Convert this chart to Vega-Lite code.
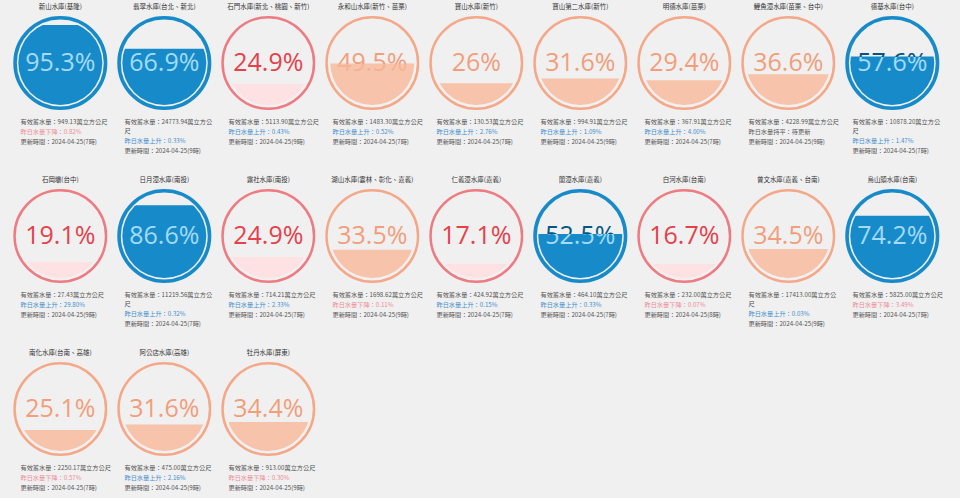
{
  "$schema": "https://vega.github.io/schema/vega-lite/v6.json",
  "background": "#f0f0f0",
  "padding": {"left": 7.45, "top": 0, "right": 19.25, "bottom": 2},
  "bounds": "flush",
  "config": {
    "view": {"stroke": null},
    "axis": {"disable": true},
    "header": {"labels": false, "title": null, "labelPadding": 0, "titlePadding": 0, "labelFontSize": 0, "labelExpr": "''"},
    "headerFacet": {"labels": false, "title": null, "labelPadding": 0, "titlePadding": 0, "labelFontSize": 0, "labelExpr": "''"}
  },
  "data": {"values": [
    {"id": 1, "name": "新山水庫(基隆)", "rate": 0.953, "status": "充足", "l1": "有效蓄水量：949.13萬立方公尺", "trend": "下降", "l2": "昨日水量下降：0.82%", "l3": "更新時間：2024-04-25(7時)"},
    {"id": 2, "name": "翡翠水庫(台北、新北)", "rate": 0.669, "status": "充足", "l1": "有效蓄水量：24773.94萬立方公\n尺", "trend": "上升", "l2": "昨日水量上升：0.33%", "l3": "更新時間：2024-04-25(9時)"},
    {"id": 3, "name": "石門水庫(新北、桃園、新竹)", "rate": 0.249, "status": "嚴重偏低", "l1": "有效蓄水量：5113.90萬立方公尺", "trend": "上升", "l2": "昨日水量上升：0.43%", "l3": "更新時間：2024-04-25(9時)"},
    {"id": 4, "name": "永和山水庫(新竹、苗栗)", "rate": 0.495, "status": "偏低", "l1": "有效蓄水量：1483.30萬立方公尺", "trend": "上升", "l2": "昨日水量上升：0.52%", "l3": "更新時間：2024-04-25(7時)"},
    {"id": 5, "name": "寶山水庫(新竹)", "rate": 0.26, "status": "偏低", "l1": "有效蓄水量：130.53萬立方公尺", "trend": "上升", "l2": "昨日水量上升：2.76%", "l3": "更新時間：2024-04-25(7時)"},
    {"id": 6, "name": "寶山第二水庫(新竹)", "rate": 0.316, "status": "偏低", "l1": "有效蓄水量：994.91萬立方公尺", "trend": "上升", "l2": "昨日水量上升：1.09%", "l3": "更新時間：2024-04-25(9時)"},
    {"id": 7, "name": "明德水庫(苗栗)", "rate": 0.294, "status": "偏低", "l1": "有效蓄水量：367.91萬立方公尺", "trend": "上升", "l2": "昨日水量上升：4.00%", "l3": "更新時間：2024-04-25(7時)"},
    {"id": 8, "name": "鯉魚潭水庫(苗栗、台中)", "rate": 0.366, "status": "偏低", "l1": "有效蓄水量：4228.99萬立方公尺", "trend": "持平", "l2": "昨日水量持平：待更新", "l3": "更新時間：2024-04-25(9時)"},
    {"id": 9, "name": "德基水庫(台中)", "rate": 0.576, "status": "充足", "l1": "有效蓄水量：10878.20萬立方公\n尺", "trend": "上升", "l2": "昨日水量上升：1.47%", "l3": "更新時間：2024-04-25(7時)"},
    {"id": 10, "name": "石岡壩(台中)", "rate": 0.191, "status": "嚴重偏低", "l1": "有效蓄水量：27.43萬立方公尺", "trend": "上升", "l2": "昨日水量上升：29.80%", "l3": "更新時間：2024-04-25(9時)"},
    {"id": 11, "name": "日月潭水庫(南投)", "rate": 0.866, "status": "充足", "l1": "有效蓄水量：11219.56萬立方公\n尺", "trend": "上升", "l2": "昨日水量上升：0.32%", "l3": "更新時間：2024-04-25(7時)"},
    {"id": 12, "name": "霧社水庫(南投)", "rate": 0.249, "status": "嚴重偏低", "l1": "有效蓄水量：714.21萬立方公尺", "trend": "上升", "l2": "昨日水量上升：2.33%", "l3": "更新時間：2024-04-25(7時)"},
    {"id": 13, "name": "湖山水庫(雲林、彰化、嘉義)", "rate": 0.335, "status": "偏低", "l1": "有效蓄水量：1698.62萬立方公尺", "trend": "下降", "l2": "昨日水量下降：0.11%", "l3": "更新時間：2024-04-25(9時)"},
    {"id": 14, "name": "仁義潭水庫(嘉義)", "rate": 0.171, "status": "嚴重偏低", "l1": "有效蓄水量：424.92萬立方公尺", "trend": "上升", "l2": "昨日水量上升：0.15%", "l3": "更新時間：2024-04-25(7時)"},
    {"id": 15, "name": "蘭潭水庫(嘉義)", "rate": 0.525, "status": "充足", "l1": "有效蓄水量：464.10萬立方公尺", "trend": "上升", "l2": "昨日水量上升：0.33%", "l3": "更新時間：2024-04-25(7時)"},
    {"id": 16, "name": "白河水庫(台南)", "rate": 0.167, "status": "嚴重偏低", "l1": "有效蓄水量：232.00萬立方公尺", "trend": "下降", "l2": "昨日水量下降：0.07%", "l3": "更新時間：2024-04-25(8時)"},
    {"id": 17, "name": "曾文水庫(嘉義、台南)", "rate": 0.345, "status": "偏低", "l1": "有效蓄水量：17413.00萬立方公\n尺", "trend": "上升", "l2": "昨日水量上升：0.03%", "l3": "更新時間：2024-04-25(9時)"},
    {"id": 18, "name": "烏山頭水庫(台南)", "rate": 0.742, "status": "充足", "l1": "有效蓄水量：5825.00萬立方公尺", "trend": "下降", "l2": "昨日水量下降：3.49%", "l3": "更新時間：2024-04-25(7時)"},
    {"id": 19, "name": "南化水庫(台南、高雄)", "rate": 0.251, "status": "偏低", "l1": "有效蓄水量：2250.17萬立方公尺", "trend": "下降", "l2": "昨日水量下降：0.57%", "l3": "更新時間：2024-04-25(7時)"},
    {"id": 20, "name": "阿公店水庫(高雄)", "rate": 0.316, "status": "偏低", "l1": "有效蓄水量：475.00萬立方公尺", "trend": "上升", "l2": "昨日水量上升：2.16%", "l3": "更新時間：2024-04-25(9時)"},
    {"id": 21, "name": "牡丹水庫(屏東)", "rate": 0.344, "status": "偏低", "l1": "有效蓄水量：913.00萬立方公尺", "trend": "下降", "l2": "昨日水量下降：0.30%", "l3": "更新時間：2024-04-25(9時)"}
  ]},
  "facet": {"field": "id", "type": "ordinal", "header": {"labels": false, "title": null, "labelPadding": 0, "titlePadding": 0, "labelFontSize": 0, "labelExpr": "''"}, "sort": "ascending"},
  "columns": 9,
  "spacing": {"row": 23, "column": 0},
  "spec": {
    "width": 103.7,
    "height": 150,
    "resolve": {"scale": {"color": "independent"}},
    "layer": [
      {
        "mark": {"type": "point", "shape": "circle", "filled": true, "size": 7056, "opacity": 1, "strokeWidth": 0},
        "encoding": {
          "x": {"datum": 0, "type": "quantitative", "scale": {"domain": [-1, 1]}, "axis": null},
          "y": {"datum": 0.5, "type": "quantitative", "scale": {"domain": [-0.5357, 1.25], "nice": false, "zero": false}, "axis": null},
          "color": {"field": "status", "type": "nominal", "scale": {"domain": ["充足", "偏低", "嚴重偏低"], "range": ["#178bca", "#f7c3ab", "#fde1e3"]}, "legend": null}
        }
      },
      {
        "mark": {"type": "rect", "color": "#f0f0f0"},
        "encoding": {
          "x": {"datum": -1, "type": "quantitative"},
          "x2": {"datum": 1},
          "y": {"field": "rate", "type": "quantitative"},
          "y2": {"datum": 1.25}
        }
      },
      {
        "transform": [{"filter": "datum.status == '充足'"}],
        "mark": {"type": "point", "shape": "circle", "filled": false, "size": 8190, "opacity": 1, "strokeWidth": 3.6, "color": "#178bca"},
        "encoding": {
          "x": {"datum": 0, "type": "quantitative"},
          "y": {"datum": 0.5, "type": "quantitative"}
        }
      },
      {
        "transform": [{"filter": "datum.status != '充足'"}],
        "mark": {"type": "point", "shape": "circle", "filled": false, "size": 8372, "opacity": 1, "strokeWidth": 2.5},
        "encoding": {
          "x": {"datum": 0, "type": "quantitative"},
          "y": {"datum": 0.5, "type": "quantitative"},
          "color": {"field": "status", "type": "nominal", "scale": {"domain": ["偏低", "嚴重偏低"], "range": ["#f5a888", "#ee7b82"]}, "legend": null}
        }
      },
      {
        "transform": [{"filter": "datum.id != 4 && datum.id != 9 && datum.id != 15"}],
        "mark": {"type": "text", "font": "Open Sans", "fontSize": 25, "baseline": "middle", "align": "center"},
        "encoding": {
          "x": {"datum": 0, "type": "quantitative"},
          "y": {"datum": 0.5, "type": "quantitative"},
          "text": {"field": "rate", "type": "quantitative", "format": ".1~%"},
          "color": {"field": "status", "type": "nominal", "scale": {"domain": ["充足", "偏低", "嚴重偏低"], "range": ["#a4dbf8", "#f29e7b", "#e5414b"]}, "legend": null}
        }
      },
      {
        "transform": [{"filter": "datum.id == 9"}],
        "mark": {"type": "text", "font": "Open Sans", "fontSize": 25, "baseline": "middle", "align": "center",
          "color": {"gradient": "linear", "x1": 0, "y1": 0, "x2": 0, "y2": 1, "stops": [{"offset": 0, "color": "#045681"}, {"offset": 0.38, "color": "#045681"}, {"offset": 0.38, "color": "#a4dbf8"}, {"offset": 1, "color": "#a4dbf8"}]}},
        "encoding": {
          "x": {"datum": 0, "type": "quantitative"},
          "y": {"datum": 0.5, "type": "quantitative"},
          "text": {"field": "rate", "type": "quantitative", "format": ".1~%"}
        }
      },
      {
        "transform": [{"filter": "datum.id == 15"}],
        "mark": {"type": "text", "font": "Open Sans", "fontSize": 25, "baseline": "middle", "align": "center",
          "color": {"gradient": "linear", "x1": 0, "y1": 0, "x2": 0, "y2": 1, "stops": [{"offset": 0, "color": "#045681"}, {"offset": 0.5, "color": "#045681"}, {"offset": 0.5, "color": "#a4dbf8"}, {"offset": 1, "color": "#a4dbf8"}]}},
        "encoding": {
          "x": {"datum": 0, "type": "quantitative"},
          "y": {"datum": 0.5, "type": "quantitative"},
          "text": {"field": "rate", "type": "quantitative", "format": ".1~%"}
        }
      },
      {
        "transform": [{"filter": "datum.id == 4"}],
        "mark": {"type": "text", "font": "Open Sans", "fontSize": 25, "baseline": "middle", "align": "center",
          "color": {"gradient": "linear", "x1": 0, "y1": 0, "x2": 0, "y2": 1, "stops": [{"offset": 0, "color": "#f29e7b"}, {"offset": 0.58, "color": "#f29e7b"}, {"offset": 0.58, "color": "#f4b296"}, {"offset": 1, "color": "#f4b296"}]}},
        "encoding": {
          "x": {"datum": 0, "type": "quantitative"},
          "y": {"datum": 0.5, "type": "quantitative"},
          "text": {"field": "rate", "type": "quantitative", "format": ".1~%"}
        }
      },
      {
        "mark": {"type": "text", "font": "Noto Sans CJK TC", "fontSize": 6.5, "baseline": "middle", "align": "center", "color": "#333333"},
        "encoding": {
          "x": {"datum": 0, "type": "quantitative"},
          "y": {"datum": 1.165, "type": "quantitative"},
          "text": {"field": "name", "type": "nominal"}
        }
      },
      {
        "mark": {"type": "text", "font": "Noto Sans CJK TC", "fontSize": 6.2, "baseline": "top", "align": "left", "color": "#555555", "lineBreak": "\n", "lineHeight": 9, "dx": 12, "dy": 14},
        "encoding": {
          "x": {"datum": -1, "type": "quantitative"},
          "y": {"datum": 0, "type": "quantitative"},
          "text": {"field": "l1", "type": "nominal"}
        }
      },
      {
        "transform": [{"filter": "indexof(datum.l1, '\\n') < 0"}],
        "mark": {"type": "text", "font": "Noto Sans CJK TC", "fontSize": 6.2, "baseline": "top", "align": "left", "dx": 12, "dy": 24},
        "encoding": {
          "x": {"datum": -1, "type": "quantitative"},
          "y": {"datum": 0, "type": "quantitative"},
          "text": {"field": "l2", "type": "nominal"},
          "color": {"field": "trend", "type": "nominal", "scale": {"domain": ["上升", "下降", "持平"], "range": ["#3f8fd2", "#f08a98", "#555555"]}, "legend": null}
        }
      },
      {
        "transform": [{"filter": "indexof(datum.l1, '\\n') >= 0"}],
        "mark": {"type": "text", "font": "Noto Sans CJK TC", "fontSize": 6.2, "baseline": "top", "align": "left", "dx": 12, "dy": 33},
        "encoding": {
          "x": {"datum": -1, "type": "quantitative"},
          "y": {"datum": 0, "type": "quantitative"},
          "text": {"field": "l2", "type": "nominal"},
          "color": {"field": "trend", "type": "nominal", "scale": {"domain": ["上升", "下降", "持平"], "range": ["#3f8fd2", "#f08a98", "#555555"]}, "legend": null}
        }
      },
      {
        "transform": [{"filter": "indexof(datum.l1, '\\n') < 0"}],
        "mark": {"type": "text", "font": "Noto Sans CJK TC", "fontSize": 6.2, "baseline": "top", "align": "left", "color": "#555555", "dx": 12, "dy": 34},
        "encoding": {
          "x": {"datum": -1, "type": "quantitative"},
          "y": {"datum": 0, "type": "quantitative"},
          "text": {"field": "l3", "type": "nominal"}
        }
      },
      {
        "transform": [{"filter": "indexof(datum.l1, '\\n') >= 0"}],
        "mark": {"type": "text", "font": "Noto Sans CJK TC", "fontSize": 6.2, "baseline": "top", "align": "left", "color": "#555555", "dx": 12, "dy": 43},
        "encoding": {
          "x": {"datum": -1, "type": "quantitative"},
          "y": {"datum": 0, "type": "quantitative"},
          "text": {"field": "l3", "type": "nominal"}
        }
      }
    ]
  }
}
